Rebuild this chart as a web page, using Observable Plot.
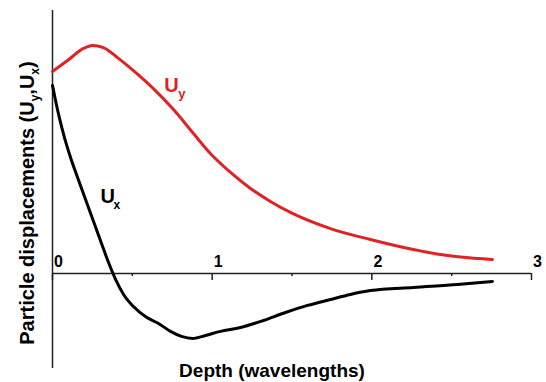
<!DOCTYPE html>
<html>
<head>
<meta charset="utf-8">
<script src="https://cdn.jsdelivr.net/npm/d3@7"></script>
<script src="https://cdn.jsdelivr.net/npm/@observablehq/plot@0.6"></script>
<style>
  html, body { margin: 0; padding: 0; background: #fff; }
  svg { display: block; }
</style>
</head>
<body>
<div id="chart"></div>
<script>
// ---- data (depth in wavelengths, relative displacement) ----
const depthUy = [0, 0.094, 0.194, 0.25, 0.319, 0.407, 0.507, 0.632, 0.758, 0.883, 0.989, 1.115, 1.24, 1.365, 1.49, 1.741, 1.991, 2.26, 2.43, 2.555, 2.755];
const valuesUy = [0.886, 0.934, 0.987, 1.0, 0.991, 0.947, 0.89, 0.811, 0.719, 0.614, 0.526, 0.443, 0.373, 0.316, 0.268, 0.197, 0.149, 0.105, 0.083, 0.072, 0.061];

const depthUx = [0, 0.019, 0.044, 0.075, 0.113, 0.157, 0.207, 0.257, 0.307, 0.351, 0.395, 0.445, 0.507, 0.582, 0.664, 0.739, 0.808, 0.877, 0.958, 1.052, 1.177, 1.321, 1.459, 1.597, 1.741, 1.866, 1.991, 2.26, 2.536, 2.755];
const valuesUx = [0.825, 0.759, 0.68, 0.596, 0.509, 0.421, 0.325, 0.228, 0.132, 0.048, -0.026, -0.092, -0.145, -0.189, -0.219, -0.254, -0.276, -0.285, -0.272, -0.254, -0.237, -0.206, -0.171, -0.14, -0.114, -0.092, -0.075, -0.061, -0.048, -0.035];

const majorTicks = [0, 1, 2, 3];
const minorTicks = [0.5, 1.5, 2.5];
const tickLabels = ["0", "1", "2", "3"];

const seriesNames = ["U", "U"];
const seriesSubs = ["y", "x"];
const xTitle = "Depth (wavelengths)";
const yTitleParts = ["Particle displacements (U", "y", ",U", "x", ")"];

// ---- annotation anchors (data coordinates) ----
const labelUy = [{x: 0.70, y: 0.798, main: seriesNames[0], sub: seriesSubs[0]}];
const labelUx = [{x: 0.30, y: 0.307, main: seriesNames[1], sub: seriesSubs[1]}];

// ---- build tables ----
const uy = depthUy.map((d, i) => ({depth: d, value: valuesUy[i]}));
const ux = depthUx.map((d, i) => ({depth: d, value: valuesUx[i]}));
const ticks = majorTicks.map((t, i) => ({t, label: tickLabels[i]}));

const RED = "#e02226";
const AXIS = "#222";
const FONT = "'Liberation Sans', Arial, Helvetica, sans-serif";

const plot = Plot.plot({
  width: 546,
  height: 382,
  marginLeft: 52,
  marginRight: 15,
  marginTop: 10,
  marginBottom: 14,
  x: {domain: [0, 3], axis: null},
  y: {domain: [-0.4167, 1.1535], axis: null},
  style: {fontFamily: FONT, background: "#fff", color: "#000"},
  marks: [
    Plot.ruleX([0], {stroke: AXIS, strokeWidth: 1.5}),
    Plot.ruleY([0], {x1: 0, x2: 3, stroke: AXIS, strokeWidth: 1.5}),
    Plot.ruleX(majorTicks, {x: d => d, y1: 0, y2: 0, insetBottom: -7, stroke: AXIS, strokeWidth: 1.5}),
    Plot.ruleX(minorTicks, {x: d => d, y1: 0, y2: 0, insetBottom: -3, stroke: AXIS, strokeWidth: 1.5}),
    Plot.text(ticks, {x: "t", y: 0, text: "label", dx: 6, dy: -6, lineAnchor: "bottom", fontSize: 16, fontWeight: "bold", fill: "#000"}),
    Plot.line(uy, {x: "depth", y: "value", stroke: RED, strokeWidth: 3, curve: "monotone-x"}),
    Plot.line(ux, {x: "depth", y: "value", stroke: "#000", strokeWidth: 3, curve: "monotone-x"}),
    Plot.text(labelUy, {x: "x", y: "y", text: "main", textAnchor: "start", lineAnchor: "bottom", fontSize: 20, fontWeight: "bold", fill: RED}),
    Plot.text(labelUy, {x: "x", y: "y", text: "sub", textAnchor: "start", lineAnchor: "bottom", dx: 14, dy: 6, fontSize: 13, fontWeight: "bold", fill: RED}),
    Plot.text(labelUx, {x: "x", y: "y", text: "main", textAnchor: "start", lineAnchor: "bottom", fontSize: 20, fontWeight: "bold", fill: "#000"}),
    Plot.text(labelUx, {x: "x", y: "y", text: "sub", textAnchor: "start", lineAnchor: "bottom", dx: 13, dy: 6, fontSize: 12, fontWeight: "bold", fill: "#000"}),
    Plot.text([xTitle], {frameAnchor: "bottom", textAnchor: "middle", dx: -20, dy: 8, lineAnchor: "bottom", fontSize: 19, fontWeight: "bold", fill: "#000"}),
    Plot.text([yTitleParts.join("")], {frameAnchor: "left", textAnchor: "middle", rotate: -90, dx: -19, dy: 13.5, lineAnchor: "bottom", fontSize: 20, fontWeight: "bold", fill: "#000"})
  ]
});

// subscripts in the y-axis title
d3.select(plot).selectAll("text")
  .filter(function () { return this.textContent === yTitleParts.join(""); })
  .each(function () {
    const t = d3.select(this);
    t.text(null);
    t.append("tspan").text(yTitleParts[0]);
    t.append("tspan").attr("dy", 5).attr("font-size", 12).text(yTitleParts[1]);
    t.append("tspan").attr("dy", -5).text(yTitleParts[2]);
    t.append("tspan").attr("dy", 5).attr("font-size", 12).text(yTitleParts[3]);
    t.append("tspan").attr("dy", -5).text(yTitleParts[4]);
  });

document.getElementById("chart").appendChild(plot);
</script>
</body>
</html>
